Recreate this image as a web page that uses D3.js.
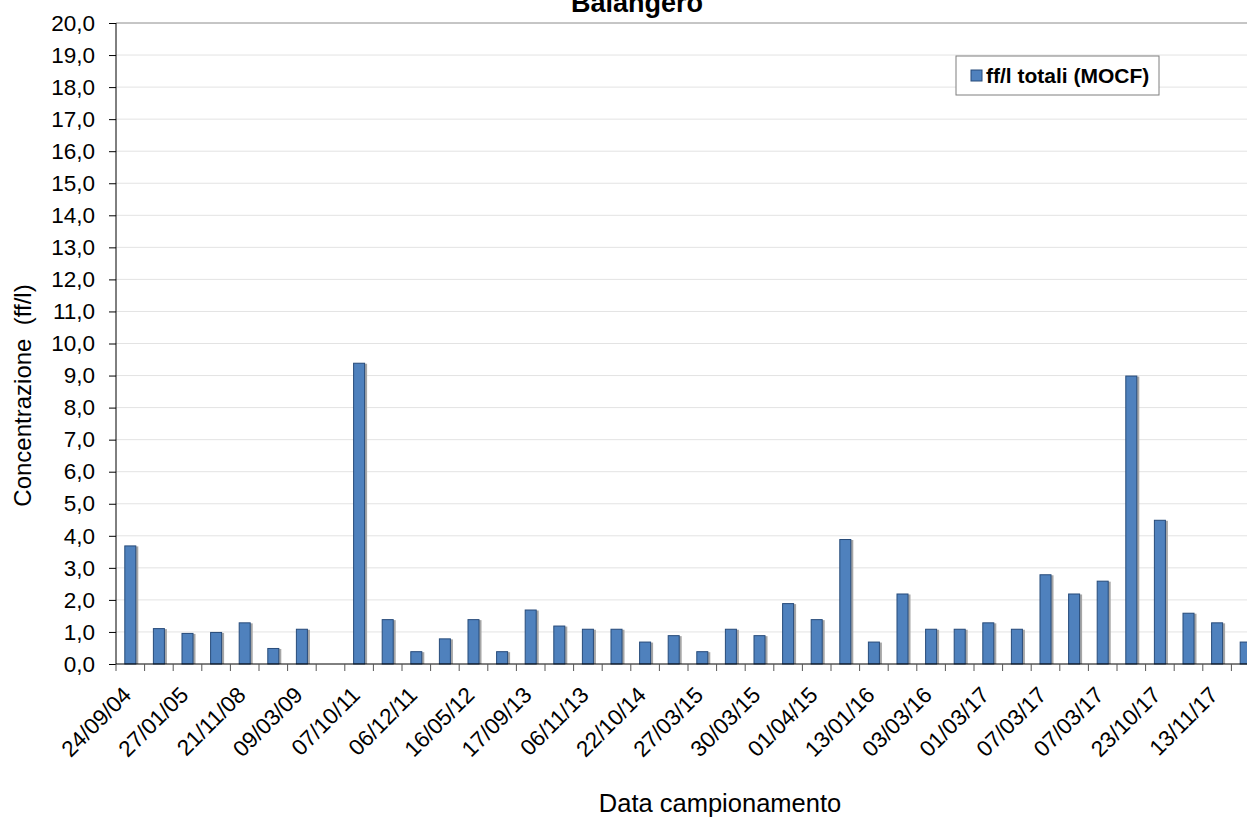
<!DOCTYPE html>
<html>
<head>
<meta charset="utf-8">
<script src="https://cdn.jsdelivr.net/npm/d3@7"></script>
<style>
  body { margin: 0; background: #fff; }
  svg { display: block; font-family: "Liberation Sans", Arial, sans-serif; }
  .grid line { stroke: #e3e3e3; }
</style>
</head>
<body>
<svg id="chart" width="1247" height="838"></svg>
<script>
// sampling dates (only every other one is printed on the axis)
const dateLabels = [
  "24/09/04", "", "27/01/05", "", "21/11/08", "", "09/03/09", "", "07/10/11", "",
  "06/12/11", "", "16/05/12", "", "17/09/13", "", "06/11/13", "", "22/10/14", "",
  "27/03/15", "", "30/03/15", "", "01/04/15", "", "13/01/16", "", "03/03/16", "",
  "01/03/17", "", "07/03/17", "", "07/03/17", "", "23/10/17", "", "13/11/17", ""
];
// ff/l totali (MOCF)
const values = [
  3.7, 1.12, 0.97, 1.0, 1.3, 0.5, 1.1, 0, 9.4, 1.4,
  0.4, 0.8, 1.4, 0.4, 1.7, 1.2, 1.1, 1.1, 0.7, 0.9,
  0.4, 1.1, 0.9, 1.9, 1.4, 3.9, 0.7, 2.2, 1.1, 1.1,
  1.3, 1.1, 2.8, 2.2, 2.6, 9.0, 4.5, 1.6, 1.3, 0.7
];
const yTicks = d3.range(0, 21, 1);

const title = "Balangero";
const seriesName = "ff/l totali (MOCF)";
const yAxisLabel = "Concentrazione  (ff/l)";
const xAxisLabel = "Data campionamento";

const svg = d3.select("#chart");
const data = values.map((v, i) => ({ i: i, label: dateLabels[i], value: v }));

const plotLeft = 116, plotTop = 23, plotBottom = 664;
const step = 28.6;
const plotRight = plotLeft + step * data.length;

const xScale = d3.scaleBand()
  .domain(data.map(d => d.i))
  .range([plotLeft, plotRight])
  .paddingInner(0.58)
  .paddingOuter(0.29);

const yScale = d3.scaleLinear().domain([0, 20]).range([plotBottom, plotTop]);
const fmt = d => d3.format(".1f")(d).replace(".", ",");

// gridlines
svg.append("g")
  .attr("class", "grid")
  .selectAll("line")
  .data(yTicks.slice(1, -1))
  .enter()
  .append("line")
  .attr("x1", plotLeft).attr("x2", 1247)
  .attr("y1", d => yScale(d)).attr("y2", d => yScale(d));

// top border of plot area
svg.append("line")
  .attr("x1", plotLeft).attr("x2", 1247)
  .attr("y1", yScale(20)).attr("y2", yScale(20))
  .attr("stroke", "#8c8c8c");

// bars (with a soft shadow on the right)
const barG = svg.append("g");
barG.selectAll("rect.shadow")
  .data(data.filter(d => d.value > 0))
  .enter()
  .append("rect")
  .attr("class", "shadow")
  .attr("x", d => xScale(d.i) + 2)
  .attr("y", d => yScale(d.value) + 1)
  .attr("width", xScale.bandwidth())
  .attr("height", d => plotBottom - yScale(d.value) - 1)
  .attr("fill", "#a6a6a6");

barG.selectAll("rect.bar")
  .data(data.filter(d => d.value > 0))
  .enter()
  .append("rect")
  .attr("class", "bar")
  .attr("x", d => xScale(d.i) + 0.5)
  .attr("y", d => yScale(d.value) + 0.5)
  .attr("width", xScale.bandwidth() - 1)
  .attr("height", d => plotBottom - yScale(d.value) - 0.5)
  .attr("fill", "#4f81bd")
  .attr("stroke", "#274b7a")
  .attr("stroke-width", 1);

// y axis
const yAxis = d3.axisLeft(yScale).tickValues(yTicks).tickFormat(fmt).tickSize(7).tickPadding(14);
const yAxisG = svg.append("g").attr("transform", `translate(${plotLeft},0)`).call(yAxis);
yAxisG.select(".domain").attr("stroke", "#000").attr("d", `M0,${plotTop}V${plotBottom}`);
yAxisG.selectAll(".tick line").attr("stroke", "#000");
yAxisG.selectAll(".tick text")
  .attr("font-size", 22.5)
  .attr("fill", "#000")
  .attr("font-family", "Liberation Sans, Arial, sans-serif");

// x axis line and boundary ticks
svg.append("line")
  .attr("x1", plotLeft).attr("x2", 1247)
  .attr("y1", plotBottom).attr("y2", plotBottom)
  .attr("stroke", "#000");

svg.append("g")
  .selectAll("line")
  .data(d3.range(data.length + 1))
  .enter()
  .append("line")
  .attr("x1", k => plotLeft + k * step).attr("x2", k => plotLeft + k * step)
  .attr("y1", plotBottom).attr("y2", plotBottom + 7)
  .attr("stroke", "#555");

// x tick labels (rotated)
svg.append("g")
  .selectAll("text")
  .data(data.filter(d => d.label !== ""))
  .enter()
  .append("text")
  .attr("transform", d => `translate(${xScale(d.i) + xScale.bandwidth() / 2 - 9},${plotBottom + 21}) rotate(-45)`)
  .attr("text-anchor", "end")
  .attr("dy", "0.71em")
  .attr("font-size", 22.5)
  .attr("fill", "#000")
  .text(d => d.label);

// title
svg.append("text")
  .attr("x", 637).attr("y", 12)
  .attr("text-anchor", "middle")
  .attr("font-size", 27)
  .attr("font-weight", "bold")
  .text(title);

// axis titles
svg.append("text")
  .attr("transform", `translate(31,${(plotTop + plotBottom) / 2 + 52}) rotate(-90)`)
  .attr("text-anchor", "middle")
  .attr("font-size", 24)
  .style("white-space", "pre")
  .text(yAxisLabel);

svg.append("text")
  .attr("x", 720).attr("y", 812)
  .attr("text-anchor", "middle")
  .attr("font-size", 25.5)
  .text(xAxisLabel);

// legend
const legend = svg.append("g").attr("transform", "translate(956,56)");
legend.append("rect")
  .attr("width", 203).attr("height", 39)
  .attr("fill", "#fff")
  .attr("stroke", "#7f7f7f");
legend.append("rect")
  .attr("x", 15).attr("y", 14)
  .attr("width", 11).attr("height", 11)
  .attr("fill", "#4f81bd")
  .attr("stroke", "#274b7a");
legend.append("text")
  .attr("x", 30).attr("y", 27)
  .attr("font-size", 21)
  .attr("font-weight", "bold")
  .text(seriesName);
</script>
</body>
</html>
